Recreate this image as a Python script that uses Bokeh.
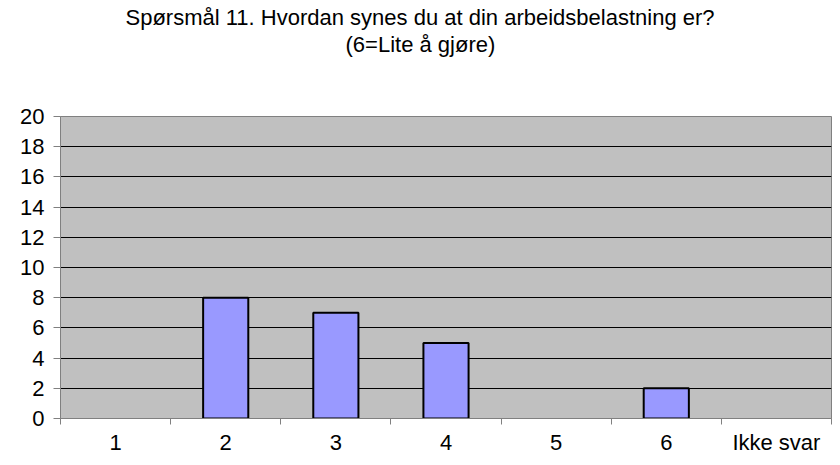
from bokeh.plotting import figure
from bokeh.models import Range1d, FixedTicker, Title
from bokeh.embed import file_html
from bokeh.resources import INLINE

categories = ["1", "2", "3", "4", "5", "6", "Ikke svar"]
counts = [0, 8, 7, 5, 0, 2, 0]
y_ticks = list(range(0, 21, 2))
title_lines = ["Spørsmål 11. Hvordan synes du at din arbeidsbelastning er?",
               "(6=Lite å gjøre)"]

FONT = "Liberation Sans"
FS = "22px"
n = len(categories)
centers = [i + 0.5 for i in range(n)]
bounds = list(range(n + 1))

p = figure(width=832, height=457, x_range=Range1d(0, n), y_range=Range1d(0, 20),
           output_backend="svg", toolbar_location=None,
           min_border_left=60, min_border_right=1, min_border_top=116, min_border_bottom=39)

p.background_fill_color = "#C0C0C0"
p.border_fill_color = "white"
p.outline_line_color = "#808080"

bx = [c for c, v in zip(centers, counts) if v > 0]
bt = [v for v in counts if v > 0]
p.vbar(x=bx, top=bt, width=0.41, bottom=0, fill_color="#9999FF",
       line_color="black", line_width=2)

# grid
p.xgrid.visible = False
p.ygrid.ticker = FixedTicker(ticks=y_ticks)
p.ygrid.grid_line_color = "black"
p.ygrid.grid_line_width = 1

# y axis
ya = p.yaxis[0]
ya.ticker = FixedTicker(ticks=y_ticks)
ya.axis_line_color = "#808080"
ya.major_tick_line_color = "#808080"
ya.major_tick_out = 7
ya.major_tick_in = 0
ya.minor_tick_line_color = None
ya.major_label_standoff = 9
ya.major_label_text_font = FONT
ya.major_label_text_font_size = FS
ya.major_label_text_color = "black"

# x axis
xa = p.xaxis[0]
xa.ticker = FixedTicker(ticks=centers, minor_ticks=bounds)
xa.major_label_overrides = {c: lab for c, lab in zip(centers, categories)}
xa.axis_line_color = "#808080"
xa.major_tick_line_color = None
xa.major_tick_out = 0
xa.major_tick_in = 0
xa.minor_tick_line_color = "#808080"
xa.minor_tick_out = 6
xa.minor_tick_in = 0
xa.major_label_standoff = 5
xa.major_label_text_font = FONT
xa.major_label_text_font_size = FS
xa.major_label_text_color = "black"

# two-line title: a blank spacer next to the frame, then line 2, then line 1
p.add_layout(Title(text=" ", standoff=33, text_font=FONT, text_font_size=FS), "above")
for line, off in zip(reversed(title_lines), [285, 65]):
    p.add_layout(Title(text=line, align="left", offset=off, standoff=0,
                       text_font=FONT, text_font_size=FS,
                       text_font_style="normal", text_color="black"), "above")

open("out.html", "w").write(file_html(p, INLINE))
